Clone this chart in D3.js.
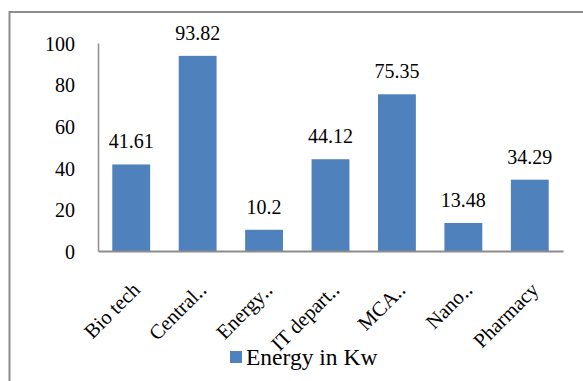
<!DOCTYPE html>
<html>
<head>
<meta charset="utf-8">
<script src="https://cdn.jsdelivr.net/npm/d3@7"></script>
<style>
  html, body { margin: 0; padding: 0; background: #fff; }
</style>
</head>
<body>
<svg id="chart" width="583" height="381"></svg>
<script>
// Energy consumption per department
const categories = ["Bio tech", "Central\u2025", "Energy\u2025", "IT depart\u2025", "MCA\u2025", "Nano\u2025", "Pharmacy"];
const energyKw = [41.61, 93.82, 10.2, 44.12, 75.35, 13.48, 34.29];
const yTicks = [0, 20, 40, 60, 80, 100];
const seriesName = "Energy in Kw";

const FONT = "'Liberation Serif', 'Times New Roman', serif";
const svg = d3.select("#chart");
const barColor = "#4F81BD";
const axisColor = "#8C8C8C";

// outer frame (left and top edges)
svg.append("path")
  .attr("d", "M9.5,381 V12 H583")
  .attr("fill", "none")
  .attr("stroke", axisColor)
  .attr("stroke-width", 2);

const plot = { left: 98, right: 563, top: 43, bottom: 251 };

const x = d3.scaleBand()
  .domain(categories)
  .range([plot.left, plot.right])
  .paddingInner(0.43)
  .paddingOuter(0.215);

const y = d3.scaleLinear()
  .domain([0, 100])
  .range([plot.bottom, plot.top]);

// y axis: line plus labels, no tick marks
const yAxis = svg.append("g")
  .attr("transform", `translate(${plot.left},0)`)
  .call(d3.axisLeft(y).tickValues(yTicks).tickSize(0).tickPadding(23));
yAxis.attr("font-family", null);
yAxis.select(".domain").attr("stroke", axisColor).attr("stroke-width", 1.5);
yAxis.selectAll("text")
  .style("font-family", FONT)
  .style("font-size", "20px")
  .attr("fill", "#000")
  .attr("dy", "0.36em");

// bars
svg.append("g")
  .selectAll("rect")
  .data(energyKw)
  .join("rect")
  .attr("x", (d, i) => x(categories[i]))
  .attr("y", d => y(d))
  .attr("width", x.bandwidth())
  .attr("height", d => y(0) - y(d))
  .attr("fill", barColor);

// x axis line
const xAxis = svg.append("g")
  .attr("transform", `translate(0,${plot.bottom})`)
  .call(d3.axisBottom(x).tickSize(0).tickFormat(""));
xAxis.select(".domain").attr("stroke", axisColor).attr("stroke-width", 2);

// value labels above bars
svg.append("g")
  .selectAll("text")
  .data(energyKw)
  .join("text")
  .attr("x", (d, i) => x(categories[i]) + x.bandwidth() / 2)
  .attr("y", d => y(d) - 16)
  .attr("text-anchor", "middle")
  .style("font-family", FONT)
  .style("font-size", "20px")
  .attr("fill", "#000")
  .text(d => String(d));

// rotated category labels
svg.append("g")
  .selectAll("text")
  .data(categories)
  .join("text")
  .attr("transform", d => `translate(${x(d) + x.bandwidth() / 2 + 10},291) rotate(-45)`)
  .attr("text-anchor", "end")
  .style("font-family", FONT)
  .style("font-size", "20.5px")
  .attr("fill", "#000")
  .text(d => d);

// legend
const legend = svg.append("g").attr("transform", "translate(230,351)");
legend.append("rect")
  .attr("width", 12)
  .attr("height", 12)
  .attr("fill", barColor);
legend.append("text")
  .attr("x", 16)
  .attr("y", 14)
  .style("font-family", FONT)
  .style("font-size", "23.5px")
  .attr("fill", "#000")
  .text(seriesName);
</script>
</body>
</html>
